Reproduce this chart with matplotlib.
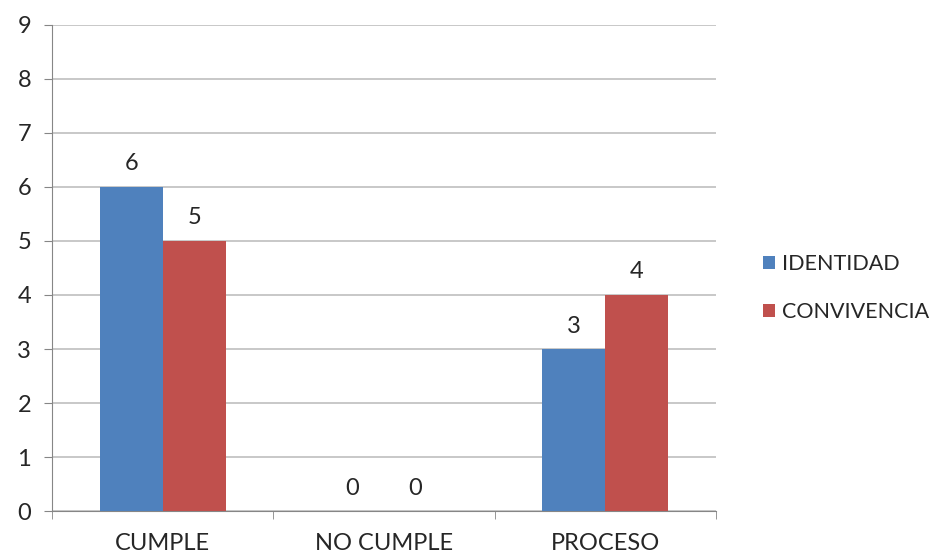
import matplotlib.pyplot as plt
import numpy as np

categories = ["CUMPLE", "NO CUMPLE", "PROCESO"]
identidad = [6, 0, 3]
convivencia = [5, 0, 4]
series_names = ["IDENTIDAD", "CONVIVENCIA"]

plt.rcParams['font.family'] = ['Lato', 'DejaVu Sans']

fig = plt.figure(figsize=(9.36, 5.54), dpi=100)
ax = fig.add_axes([0.0556, 0.0776, 0.7094, 0.8773])

x = np.arange(len(categories))
w = 0.285
b1 = ax.bar(x - w / 2, identidad, w, color="#4F81BD", label=series_names[0], zorder=3)
b2 = ax.bar(x + w / 2, convivencia, w, color="#C0504D", label=series_names[1], zorder=3)

for bars in (b1, b2):
    for rect in bars:
        h = rect.get_height()
        ax.annotate(f"{h:g}", (rect.get_x() + rect.get_width() / 2, h),
                    xytext=(0, 9), textcoords="offset points",
                    ha="center", va="bottom", fontsize=17, color="#262626")

ax.set_xlim(-0.5, 2.5)
ax.set_ylim(0, 9)
ax.set_yticks(range(0, 10))
ax.set_xticks(x)
ax.set_xticklabels(categories)
ax.set_xticks([-0.5, 0.5, 1.5, 2.5], minor=True)
ax.tick_params(axis="x", which="major", length=0, pad=16, labelsize=17, labelcolor="#262626")
ax.tick_params(axis="x", which="minor", length=6, color="#868686")
ax.tick_params(axis="y", length=6, color="#868686", labelsize=17, labelcolor="#262626", pad=9)

ax.yaxis.grid(True, color="#BFBFBF", linewidth=1.2, zorder=0)
for s in ["top", "right"]:
    ax.spines[s].set_visible(False)
for s in ["left", "bottom"]:
    ax.spines[s].set_color("#868686")

fig.legend(handles=[b1, b2], loc="center left", bbox_to_anchor=(0.794, 0.48),
           frameon=False, fontsize=15.5, handlelength=0.6, handleheight=0.6,
           handletextpad=0.3, labelspacing=1.3, labelcolor="#262626")

plt.savefig("out.png", dpi=100)
